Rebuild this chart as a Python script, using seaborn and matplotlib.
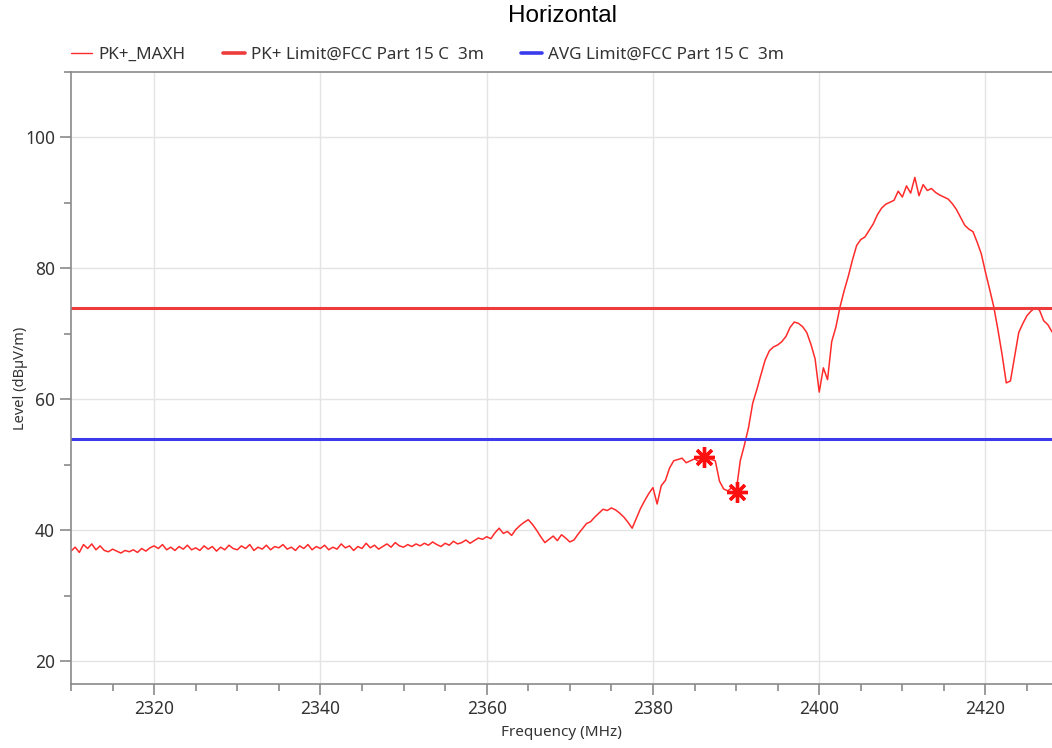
import numpy as np
import matplotlib
matplotlib.use("Agg")
import matplotlib.pyplot as plt
from matplotlib.lines import Line2D
from matplotlib.ticker import MultipleLocator
import seaborn as sns

# trace sampled every 0.5 MHz from 2310 to 2428
freq = np.arange(2310.0, 2428.01, 0.5)
level = [
    36.8, 37.4, 36.6, 37.8, 37.2, 37.9, 37.0, 37.6, 36.9, 36.7,
    37.1, 36.8, 36.5, 36.9, 36.7, 37.0, 36.6, 37.2, 36.8, 37.3,
    37.6, 37.2, 37.8, 37.0, 37.4, 36.9, 37.5, 37.1, 37.7, 37.0,
    37.3, 36.9, 37.6, 37.1, 37.5, 36.8, 37.4, 37.0, 37.7, 37.2,
    37.0, 37.6, 37.2, 37.8, 36.9, 37.4, 37.1, 37.7, 37.0, 37.5,
    37.3, 37.8, 37.1, 37.4, 36.9, 37.6, 37.2, 37.8, 37.0, 37.5,
    37.2, 37.7, 37.0, 37.4, 37.1, 37.9, 37.3, 37.6, 36.9, 37.5,
    37.2, 38.0, 37.3, 37.7, 37.1, 37.5, 37.9, 37.4, 38.1, 37.6,
    37.4, 37.8, 37.5, 37.9, 37.6, 38.0, 37.7, 38.2, 37.8, 37.5,
    38.0, 37.7, 38.3, 37.9, 38.1, 38.5, 38.0, 38.4, 38.8, 38.6,
    39.0, 38.7, 39.6, 40.3, 39.5, 39.8, 39.2, 40.1, 40.7, 41.2,
    41.6, 40.9, 40.0, 39.0, 38.1, 38.6, 39.1, 38.4, 39.3, 38.8,
    38.2, 38.5, 39.4, 40.2, 41.0, 41.3, 42.0, 42.6, 43.2, 43.0,
    43.4, 43.1, 42.6, 42.0, 41.2, 40.3, 41.8, 43.3, 44.5, 45.6,
    46.5, 44.0, 46.8, 47.6, 49.5, 50.6, 50.8, 51.0, 50.3, 50.6,
    50.9, 50.5, 51.2, 51.0, 50.8, 50.6, 47.5, 46.3, 46.0, 46.5,
    45.8, 50.6, 53.0, 55.7, 59.4, 61.5, 63.8, 66.0, 67.4, 68.0,
    68.3, 68.8, 69.6, 71.0, 71.8, 71.6, 71.1, 70.2, 68.4, 66.2,
    61.1, 64.8, 63.0, 68.8, 71.0, 74.1, 76.6, 78.8, 81.3, 83.5,
    84.4, 84.8, 85.8, 86.8, 88.2, 89.2, 89.8, 90.1, 90.4, 91.8,
    90.9, 92.6, 91.5, 93.9, 91.1, 92.8, 91.9, 92.2, 91.6, 91.2,
    90.9, 90.6, 89.9, 89.0, 87.8, 86.6, 86.0, 85.6, 84.0, 82.2,
    79.4, 76.8, 74.1, 70.6, 66.8, 62.5, 62.8, 66.5, 70.2, 71.6,
    72.8, 73.5, 74.0, 73.6, 72.0, 71.4, 70.3,
]

marker_freq = [2386.2, 2390.1]
marker_level = [51.2, 45.8]

pk_limit = 74.0
avg_limit = 54.0

trace_color = "#ff2b2b"
pk_color = "#ee3b3b"
avg_color = "#3b3bee"

sns.set_style("white")
plt.rcParams["font.family"] = ["Noto Sans", "DejaVu Sans"]

fig = plt.figure(figsize=(10.52, 7.48), dpi=100)
ax = fig.add_axes([0.0675, 0.0856, 0.9325, 0.8181])

sns.lineplot(x=freq, y=level, ax=ax, color=trace_color, lw=1.1,
             estimator=None, sort=False, legend=False)
ax.axhline(pk_limit, color=pk_color, lw=2.2)
ax.axhline(avg_limit, color=avg_color, lw=2.2)
ax.plot(marker_freq, marker_level, ls="none", marker=(8, 2, 0),
        ms=15, mew=2.4, color="#ff1010")

ax.set_xlim(2310, 2428)
ax.set_ylim(16.5, 110)
ax.xaxis.set_major_locator(MultipleLocator(20))
ax.xaxis.set_minor_locator(MultipleLocator(5))
ax.yaxis.set_major_locator(MultipleLocator(20))
ax.yaxis.set_minor_locator(MultipleLocator(10))
ax.grid(True, which="major", color="#e4e4e4", lw=1)

for side in ["left", "bottom", "top"]:
    ax.spines[side].set_color("#8a8a8a")
    ax.spines[side].set_linewidth(1.2)
ax.spines["right"].set_visible(False)

ax.tick_params(which="major", direction="out", length=8, width=1.2,
               color="#8a8a8a", labelsize=12.5, labelcolor="#333333",
               left=True, bottom=True)
ax.tick_params(which="minor", direction="out", length=5, width=1.2,
               color="#8a8a8a", left=True, bottom=True)

ax.set_xlabel("Frequency (MHz)", fontsize=11, color="#333333", labelpad=5)
ax.set_ylabel("Level (dBµV/m)", fontsize=10.5, color="#333333", labelpad=-2)

fig.suptitle("Horizontal", x=0.535, y=0.993, fontsize=17.5, color="black",
             family=["Liberation Sans", "DejaVu Sans"])

handles = [
    Line2D([], [], color=trace_color, lw=1.0),
    Line2D([], [], color=pk_color, lw=2.6),
    Line2D([], [], color=avg_color, lw=2.6),
]
labels = ["PK+_MAXH", "PK+ Limit@FCC Part 15 C  3m", "AVG Limit@FCC Part 15 C  3m"]
fig.legend(handles, labels, loc="upper left", bbox_to_anchor=(0.053, 0.958),
           ncol=3, frameon=False, fontsize=12.3, handlelength=1.25,
           handletextpad=0.35, columnspacing=2.2, labelcolor="#333333")

fig.savefig("out.png", dpi=100)
